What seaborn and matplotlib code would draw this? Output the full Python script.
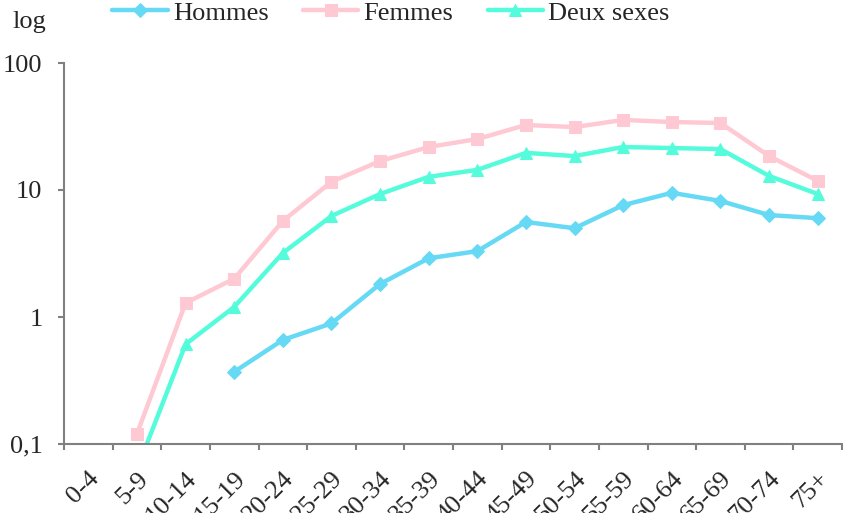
import numpy as np
import pandas as pd
import matplotlib
matplotlib.use("Agg")
import matplotlib.pyplot as plt
from matplotlib.ticker import FixedLocator, FixedFormatter, NullLocator
import seaborn as sns

ages = ["0-4", "5-9", "10-14", "15-19", "20-24", "25-29", "30-34", "35-39",
        "40-44", "45-49", "50-54", "55-59", "60-64", "65-69", "70-74", "75+"]

hommes = [np.nan, np.nan, np.nan, 0.37, 0.66, 0.89, 1.82, 2.9, 3.3, 5.6,
          5.0, 7.6, 9.5, 8.2, 6.35, 6.0]
femmes = [np.nan, 0.12, 1.29, 2.0, 5.7, 11.6, 16.9, 21.8, 25.2, 32.5,
          31.3, 35.6, 34.3, 33.7, 18.5, 11.8]
deux_sexes = [np.nan, 0.063, 0.61, 1.2, 3.19, 6.24, 9.3, 12.7, 14.4, 19.6,
              18.5, 21.8, 21.4, 21.0, 12.9, 9.3]

series = {"Hommes": hommes, "Femmes": femmes, "Deux sexes": deux_sexes}
colors = {"Hommes": "#66d9f5", "Femmes": "#ffc9d3", "Deux sexes": "#55fcdc"}
markers = {"Hommes": "D", "Femmes": "s", "Deux sexes": "^"}
msizes = {"Hommes": 7, "Femmes": 9, "Deux sexes": 8}

sns.set_style("white")
plt.rcParams["font.family"] = ["Liberation Serif", "DejaVu Serif"]
fs = 19

fig = plt.figure(figsize=(8.43, 5.13), dpi=100)
ax = fig.add_axes([64 / 843, 1 - 444 / 513, 778 / 843, 381 / 513])

x = np.arange(len(ages))
for name, vals in series.items():
    df = pd.DataFrame({"pos": x, "val": vals}).dropna()
    sns.lineplot(data=df, x="pos", y="val", ax=ax, color=colors[name],
                 marker=markers[name], markersize=msizes[name],
                 markeredgecolor=colors[name], linewidth=3.2, label=name)

ax.set_yscale("log")
ax.set_ylim(0.1, 100)
ax.set_xlim(-0.5, len(ages) - 0.5)
ax.yaxis.set_major_locator(FixedLocator([0.1, 1, 10, 100]))
ax.yaxis.set_major_formatter(FixedFormatter(["0,1", "1", "10", "100"]))
ax.yaxis.set_minor_locator(NullLocator())

# ticks on category boundaries, labels on category centres
ax.set_xticks(np.arange(-0.5, len(ages), 1.0), [""] * (len(ages) + 1))
ax.set_xticks(x, ages, minor=True, rotation=45, ha="right", va="top",
              rotation_mode="anchor", fontsize=fs)
ax.tick_params(axis="x", which="minor", length=0, pad=17)

ax.tick_params(axis="both", which="major", length=4.5, width=1.5,
               color="#808080", labelsize=fs, direction="out",
               bottom=True, left=True)
ax.tick_params(axis="y", pad=11)
ax.set_xlabel("")
ax.set_ylabel("")
sns.despine(ax=ax)
for s in ["left", "bottom"]:
    ax.spines[s].set_color("#808080")
    ax.spines[s].set_linewidth(1.5)

ax.legend(loc="center", bbox_to_anchor=(391 / 843, 1 - 13 / 513),
          bbox_transform=fig.transFigure, ncol=3, frameon=False,
          fontsize=fs, handlelength=2.1, columnspacing=1.3,
          handletextpad=0.2, borderpad=0, borderaxespad=0)
fig.text(12 / 843, 1 - 22 / 513, "log", fontsize=fs, va="center")

fig.savefig("out.png", dpi=100)
